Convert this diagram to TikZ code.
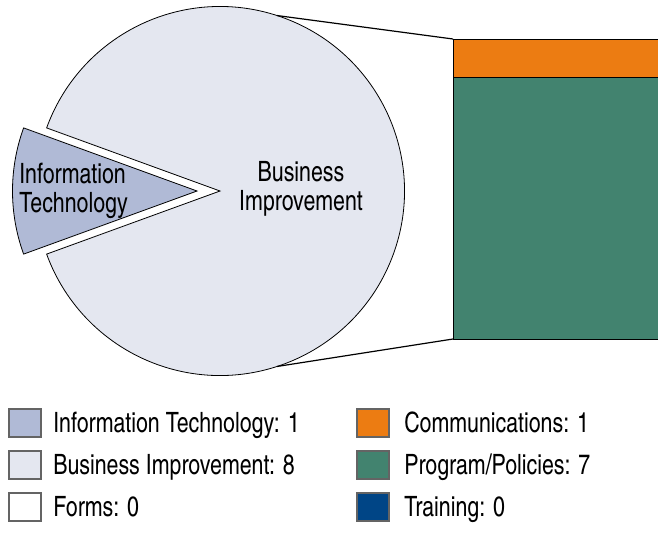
\documentclass[tikz,border=0pt]{standalone}
\usepackage{fontspec}
\usetikzlibrary{calc}
\setmainfont[FakeStretch=0.93]{texgyreheroscn-regular.otf}
\definecolor{itc}{RGB}{176,186,214}
\definecolor{bic}{RGB}{228,231,240}
\definecolor{comc}{RGB}{236,124,18}
\definecolor{progc}{RGB}{66,131,111}
\definecolor{trainc}{RGB}{0,69,134}
\definecolor{legline}{RGB}{100,100,100}
\begin{document}
\begin{tikzpicture}[x=0.75pt,y=0.75pt,
  slice/.style={draw=black,line width=0.6pt,line join=miter},
  lbl/.style={inner sep=0pt,font=\fontsize{21}{21.4}\selectfont},
  legbox/.style={draw=legline,line width=0.8pt,minimum width=24pt,minimum height=21pt,inner sep=0pt},
  legtxt/.style={inner sep=0pt,anchor=base west,font=\fontsize{21}{22}\selectfont},
  link/.style={draw=black,line width=0.9pt}]
\useasboundingbox (0,0) rectangle (658,-537);
% pie
\path[slice,fill=bic] (220,-191) -- ++(160:184.5) arc[start angle=160,end angle=-160,radius=184.5] -- cycle;
\path[slice,fill=itc] (197,-191) -- ++(160:184.5) arc[start angle=160,end angle=200,radius=184.5] -- cycle;
\node[lbl,align=center] (bi) at (301,-189) {Business\\Improvement};
\node[lbl,align=left,anchor=west] (it) at (19,-191) {Information\\Technology};
% bar
\begin{scope}
\clip (0,0) rectangle (658,-537);
\path[draw=black,line width=0.6pt,fill=comc] (453,-39) rectangle (670,-77);
\path[draw=black,line width=0.6pt,fill=progc] (453,-77) rectangle (670,-339);
\end{scope}
\coordinate (bartop) at (453,-39);
\coordinate (barbot) at (453,-339);
\coordinate (ptop) at ($(220,-191)+(72:184.5)$);
\coordinate (pbot) at ($(220,-191)+(-72:184.5)$);
\draw[link] (ptop) -- (bartop);
\draw[link] (pbot) -- (barbot);
% legend
\node[legbox,fill=itc] (b1) at (25,-423) {};
\node[legbox,fill=bic] (b2) at (25,-465) {};
\node[legbox,fill=white] (b3) at (25,-507) {};
\node[legbox,fill=comc] (b4) at (373,-423) {};
\node[legbox,fill=progc] (b5) at (373,-465) {};
\node[legbox,fill=trainc] (b6) at (373,-507) {};
\node[legtxt] (t1) at (53,-432.5) {Information Technology: 1};
\node[legtxt] (t2) at (53,-474.5) {Business Improvement: 8};
\node[legtxt] (t3) at (53,-516.5) {Forms: 0};
\node[legtxt] (t4) at (404,-432.5) {Communications: 1};
\node[legtxt] (t5) at (404,-474.5) {Program/Policies: 7};
\node[legtxt] (t6) at (404,-516.5) {Training: 0};
\end{tikzpicture}
\end{document}
